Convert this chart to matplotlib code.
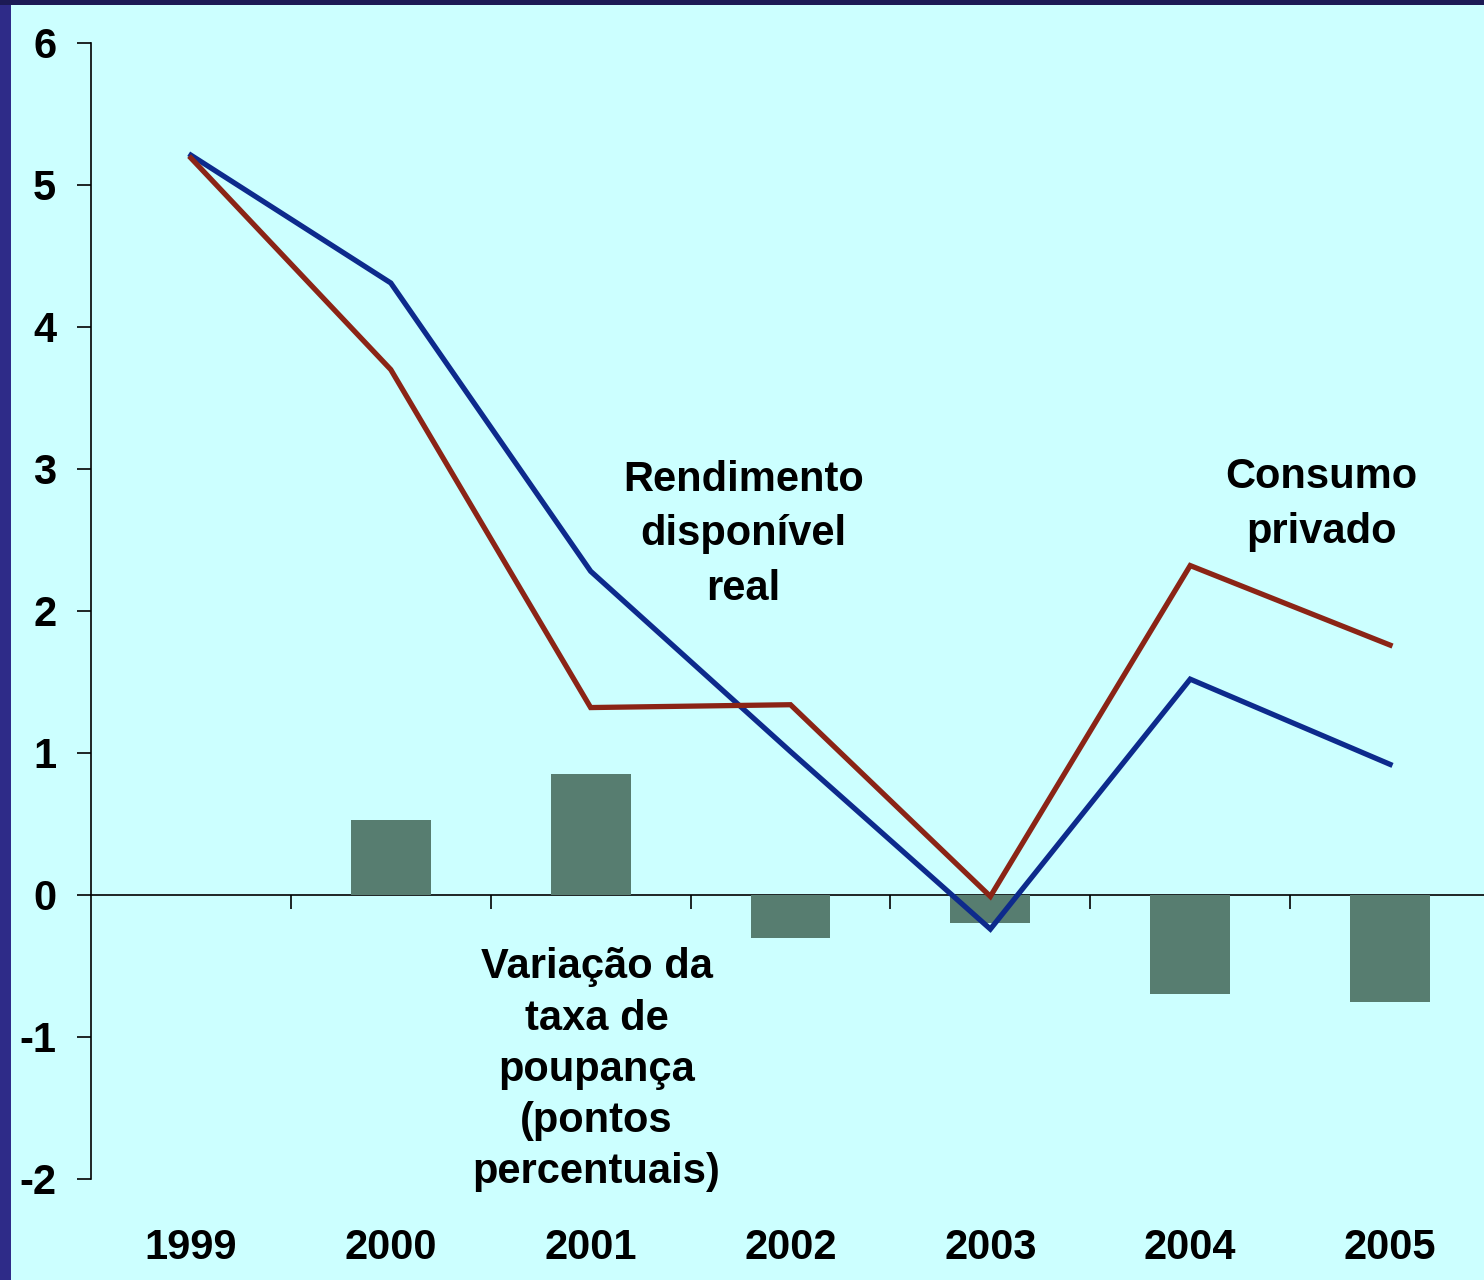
import matplotlib
matplotlib.use("Agg")
import matplotlib.pyplot as plt
import matplotlib.patches as mpatches
import numpy as np

years = ['1999', '2000', '2001', '2002', '2003', '2004', '2005']
rendimento = [5.21, 4.31, 2.28, 1.01, -0.24, 1.52, 0.92]
consumo = [5.19, 3.70, 1.32, 1.34, -0.01, 2.32, 1.76]
poupanca = [0.0, 0.53, 0.85, -0.30, -0.20, -0.70, -0.75]

plt.rcParams['font.family'] = ['Liberation Sans', 'DejaVu Sans']
plt.rcParams['font.weight'] = 'bold'
plt.rcParams['axes.unicode_minus'] = False

W, H = 1484, 1280
fig = plt.figure(figsize=(W / 100, H / 100), dpi=100)
fig.patch.set_facecolor('#2E2B88')
# top band slightly darker, cyan panel
fig.add_artist(mpatches.Rectangle((0, 1 - 5 / H), 1, 5 / H, transform=fig.transFigure,
                                  facecolor='#1C1A55', edgecolor='none', zorder=-5))
fig.add_artist(mpatches.Rectangle((11 / W, 0), 1, 1 - 5 / H, transform=fig.transFigure,
                                  facecolor='#CCFFFF', edgecolor='none', zorder=-5))

ax = fig.add_axes([91 / W, (H - 1179) / H, (W - 91) / W, (1179 - 43) / H])
ax.set_facecolor('none')

x = np.arange(len(years))
ax.bar(x, poupanca, width=0.4, color='#577D70', zorder=2)
ax.plot(x, rendimento, color='#0D2A8C', lw=3.8, zorder=3, solid_joinstyle='miter')
ax.plot(x, consumo, color='#8B2416', lw=3.8, zorder=3, solid_joinstyle='miter')

ax.set_ylim(-2, 6)
ax.set_xlim(-0.5, 6.47)
ax.set_yticks(range(-2, 7))
ax.tick_params(axis='y', direction='out', length=10, width=1.2, pad=15, labelsize=30)
for lab in ax.get_yticklabels():
    lab.set_fontweight('bold')

for s in ['top', 'right', 'bottom']:
    ax.spines[s].set_visible(False)
ax.spines['left'].set_linewidth(1.2)

ax.set_xticks(x)
ax.set_xticklabels(years, fontsize=30, fontweight='bold')
ax.tick_params(axis='x', length=0, pad=35.5)

# zero line with category boundary ticks
sec = ax.secondary_xaxis(0.25)
sec.set_xticks(np.arange(0.5, 6, 1))
sec.set_xticklabels([])
sec.tick_params(axis='x', direction='out', length=10, width=1.2)
sec.spines['bottom'].set_linewidth(1.2)

txt = dict(fontsize=30, fontweight='bold', ha='center', va='center')
ax.text(2.765, 2.54, 'Rendimento\ndisponível\nreal', linespacing=1.46, **txt)
ax.text(5.655, 2.75, 'Consumo\nprivado', linespacing=1.46, **txt)
ax.text(2.03, -1.23, 'Variação da\ntaxa de\npoupança\n(pontos\npercentuais)', linespacing=1.36, **txt)

fig.savefig('out.png', dpi=100, facecolor=fig.get_facecolor())
